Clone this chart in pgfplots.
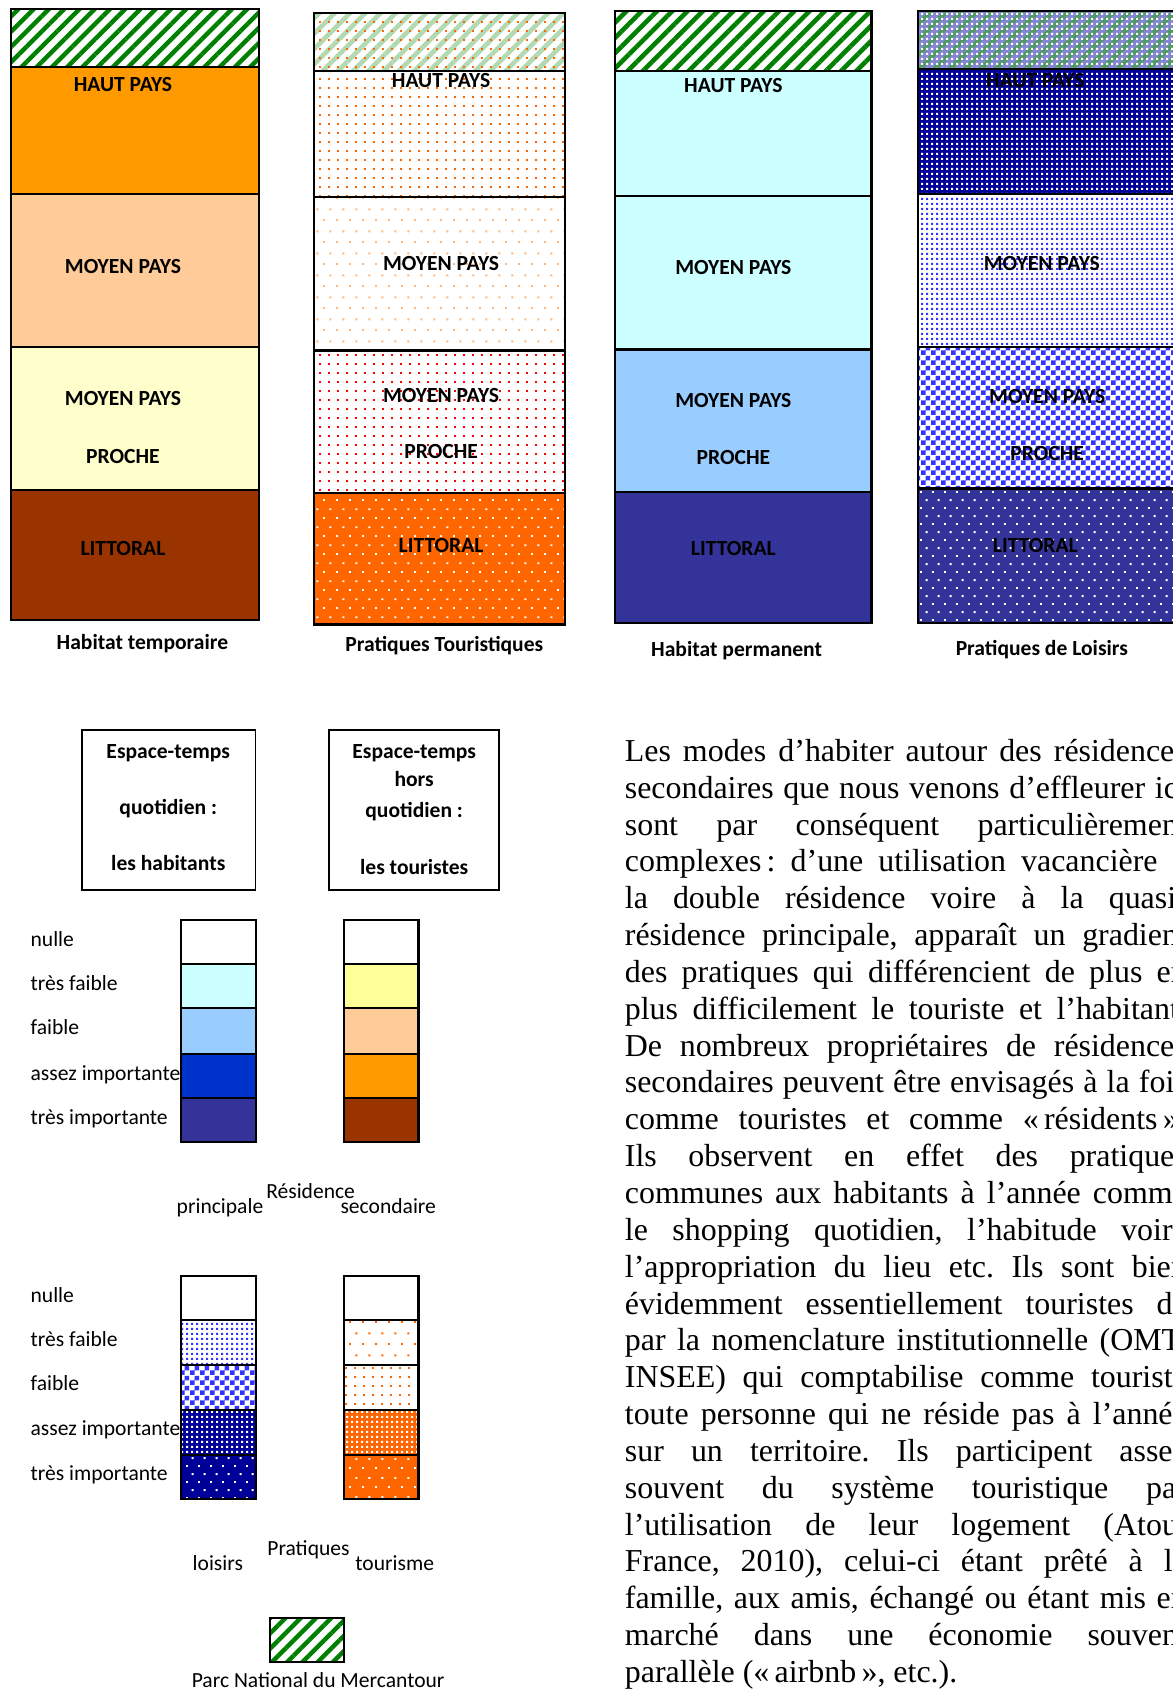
\documentclass[border=0pt]{standalone}
\usepackage{fontspec}
\setmainfont{Carlito}
\newfontfamily\timesf{Liberation Serif}
\usepackage{pgfplots}
\pgfplotsset{compat=1.18}
\usetikzlibrary{patterns,patterns.meta}
\frenchspacing

\definecolor{parkgreen}{HTML}{008000}
\definecolor{parklight}{HTML}{B3D9B3}
\definecolor{parkmid}{HTML}{4F9A63}
\definecolor{lav}{HTML}{8585D6}
\definecolor{orA}{HTML}{FF9900}
\definecolor{peach}{HTML}{FFCC99}
\definecolor{cream}{HTML}{FFFFCC}
\definecolor{brownA}{HTML}{993300}
\definecolor{orB}{HTML}{FF6600}
\definecolor{cyanL}{HTML}{CCFFFF}
\definecolor{blueL}{HTML}{99CCFF}
\definecolor{indigo}{HTML}{333399}
\definecolor{navy}{HTML}{000099}
\definecolor{blueD}{HTML}{3333FF}
\definecolor{royal}{HTML}{0033CC}
\definecolor{yellowL}{HTML}{FFFF99}
\definecolor{redD}{HTML}{FF0000}
\definecolor{peachdot}{HTML}{FFB877}

% dot patterns (sizes in pt, 1 px of the reference = 0.5pt)
\pgfdeclarepatternformonly{dGrid}{\pgfpointorigin}{\pgfqpoint{4pt}{4pt}}{\pgfqpoint{4pt}{4pt}}{%
  \pgfpathrectangle{\pgfpointorigin}{\pgfqpoint{0.9pt}{0.9pt}}\pgfusepath{fill}}
\pgfdeclarepatternformonly{dStag}{\pgfpointorigin}{\pgfqpoint{6pt}{10pt}}{\pgfqpoint{6pt}{10pt}}{%
  \pgfpathrectangle{\pgfpointorigin}{\pgfqpoint{0.9pt}{0.9pt}}%
  \pgfpathrectangle{\pgfqpoint{3pt}{5pt}}{\pgfqpoint{0.9pt}{0.9pt}}\pgfusepath{fill}}
\pgfdeclarepatternformonly{dStagL}{\pgfpointorigin}{\pgfqpoint{6pt}{8.5pt}}{\pgfqpoint{6pt}{8.5pt}}{%
  \pgfpathrectangle{\pgfpointorigin}{\pgfqpoint{0.9pt}{0.9pt}}%
  \pgfpathrectangle{\pgfqpoint{3pt}{4.25pt}}{\pgfqpoint{0.9pt}{0.9pt}}\pgfusepath{fill}}
\pgfdeclarepatternformonly{dStagN}{\pgfpointorigin}{\pgfqpoint{5.4pt}{7.4pt}}{\pgfqpoint{5.4pt}{7.4pt}}{%
  \pgfpathrectangle{\pgfpointorigin}{\pgfqpoint{0.9pt}{0.9pt}}%
  \pgfpathrectangle{\pgfqpoint{2.7pt}{3.7pt}}{\pgfqpoint{0.9pt}{0.9pt}}\pgfusepath{fill}}
\pgfdeclarepatternformonly{dFine}{\pgfpointorigin}{\pgfqpoint{2.4pt}{2.4pt}}{\pgfqpoint{2.4pt}{2.4pt}}{%
  \pgfpathrectangle{\pgfpointorigin}{\pgfqpoint{1.1pt}{1.1pt}}\pgfusepath{fill}}
\pgfdeclarepatternformonly{chk}{\pgfpointorigin}{\pgfqpoint{4.4pt}{4.4pt}}{\pgfqpoint{4.4pt}{4.4pt}}{%
  \pgfpathrectangle{\pgfpointorigin}{\pgfqpoint{2.2pt}{2.2pt}}%
  \pgfpathrectangle{\pgfqpoint{2.2pt}{2.2pt}}{\pgfqpoint{2.2pt}{2.2pt}}\pgfusepath{fill}}

\tikzset{
  box/.style={draw=black, line width=1pt},
  hatch/.style={pattern={Lines[angle=45,distance=5pt,line width=2.1pt]}, pattern color=#1},
  park/.style={preaction={fill=white}, hatch=parkgreen},
  lab/.style={font=\fontsize{10}{12}\selectfont\bfseries, inner sep=0pt, text height=6.4pt, text depth=0pt},
  leg/.style={font=\fontsize{10}{12}\selectfont, inner sep=0pt, text height=6.4pt, text depth=0pt},
  ptxt/.style={font=\timesf\fontsize{14.8}{17}\selectfont, inner sep=0pt, anchor=base west},
}

% one rectangle (x1,x2 across, y1,y2 down the page)
\newcommand\seg[5]{\addplot[#5] coordinates {(#1,#3) (#2,#3) (#2,#4) (#1,#4)} --cycle;}
\newcommand\pl[2]{\node[ptxt] at (579,#1) {\makebox[260.5pt][s]{#2}};}

\begin{document}
\begin{tikzpicture}
\useasboundingbox (0,0) rectangle (543.5pt,783.5pt);
\begin{axis}[
    hide axis, scale only axis,
    width=543.5pt, height=783.5pt,
    xmin=0, xmax=1087, ymin=0, ymax=1567,
    y dir=reverse, clip=false,
    anchor=south west, at={(0,0)},
]
% --- Habitat temporaire
\seg{10}{240}{8}{62}{box, park}
\seg{10}{240}{62}{180}{box, fill=orA}
\seg{10}{240}{180}{322}{box, fill=peach}
\seg{10}{240}{322}{454}{box, fill=cream}
\seg{10}{240}{454}{575}{box, fill=brownA}
% --- Pratiques touristiques
\seg{291}{524}{12}{66}{box, preaction={fill=white}, preaction={hatch=parklight}, pattern=dGrid, pattern color=orB}
\seg{291}{524}{66}{183}{box, preaction={fill=white}, pattern=dGrid, pattern color=orB}
\seg{291}{524}{183}{325}{box, preaction={fill=white}, pattern=dStag, pattern color=peachdot}
\seg{291}{524}{325}{457}{box, preaction={fill=white}, pattern=dGrid, pattern color=redD}
\seg{291}{524}{457}{579}{box, preaction={fill=orB}, pattern=dStagL, pattern color=white}
% --- Habitat permanent
\seg{570}{808}{10}{66}{box, park}
\seg{570}{808}{66}{182}{box, fill=cyanL}
\seg{570}{808}{182}{324}{box, fill=cyanL}
\seg{570}{808}{324}{456}{box, fill=blueL}
\seg{570}{808}{456}{578}{box, fill=indigo}
% --- Pratiques de loisirs
\seg{851}{1089}{10}{64}{box, preaction={fill=lav}, preaction={hatch=parkmid}, pattern=dFine, pattern color=white}
\seg{851}{1089}{64}{180}{box, preaction={fill=navy}, pattern=dFine, pattern color=white}
\seg{851}{1089}{180}{322}{box, preaction={fill=white}, pattern=dFine, pattern color=blueD}
\seg{851}{1089}{322}{453}{box, preaction={fill=white}, pattern=chk, pattern color=blueD}
\seg{851}{1089}{453}{578}{box, preaction={fill=indigo}, pattern=dStagN, pattern color=white}

% bar labels
\node[lab] at (114,78) {HAUT PAYS};
\node[lab] at (114,247) {MOYEN PAYS};
\node[lab] at (114,370) {MOYEN PAYS};
\node[lab] at (114,423) {PROCHE};
\node[lab] at (114,509) {LITTORAL};
\node[lab] at (409,75) {HAUT PAYS};
\node[lab] at (409,244) {MOYEN PAYS};
\node[lab] at (409,367) {MOYEN PAYS};
\node[lab] at (409,419) {PROCHE};
\node[lab] at (409,506) {LITTORAL};
\node[lab] at (680,79) {HAUT PAYS};
\node[lab] at (680,248) {MOYEN PAYS};
\node[lab] at (680,371) {MOYEN PAYS};
\node[lab] at (680,424) {PROCHE};
\node[lab] at (680,509) {LITTORAL};
\node[lab] at (960,75) {HAUT PAYS};
\node[lab] at (966,244) {MOYEN PAYS};
\node[lab] at (971,368) {MOYEN PAYS};
\node[lab] at (971,421) {PROCHE};
\node[lab] at (960,506) {LITTORAL};
\node[lab] at (132,596) {Habitat temporaire};
\node[lab] at (412,598) {Pratiques Touristiques};
\node[lab] at (683,602) {Habitat permanent};
\node[lab] at (966,601) {Pratiques de Loisirs};

% --- boxes
\seg{76}{237}{677}{825}{draw=black, line width=0.8pt}
\seg{305}{463}{677}{825}{draw=black, line width=0.8pt}
\node[lab] at (156,697) {Espace-temps};
\node[lab] at (156,749) {quotidien :};
\node[lab] at (156,801) {les habitants};
\node[lab] at (384,697) {Espace-temps};
\node[lab] at (384,723) {hors};
\node[lab] at (384,752) {quotidien :};
\node[lab] at (384,804) {les touristes};

% --- scale 1 (résidence)
\seg{168}{237}{853}{894}{box, fill=white}
\seg{168}{237}{894}{935}{box, fill=cyanL}
\seg{168}{237}{935}{977}{box, fill=blueL}
\seg{168}{237}{977}{1018}{box, fill=royal}
\seg{168}{237}{1018}{1059}{box, fill=indigo}
\seg{319}{388}{853}{894}{box, fill=white}
\seg{319}{388}{894}{935}{box, fill=yellowL}
\seg{319}{388}{935}{977}{box, fill=peach}
\seg{319}{388}{977}{1018}{box, fill=orA}
\seg{319}{388}{1018}{1059}{box, fill=brownA}
\node[leg, anchor=west] at (28,871) {nulle};
\node[leg, anchor=west] at (28,912) {très faible};
\node[leg, anchor=west] at (28,953) {faible};
\node[leg, anchor=west] at (28,995) {assez importante};
\node[leg, anchor=west] at (28,1036) {très importante};
\node[leg] at (204,1119) {principale};
\node[leg] at (288,1105) {Résidence};
\node[leg] at (360,1119) {secondaire};

% --- scale 2 (pratiques)
\seg{168}{237}{1183}{1224}{box, fill=white}
\seg{168}{237}{1224}{1266}{box, preaction={fill=white}, pattern=dFine, pattern color=blueD}
\seg{168}{237}{1266}{1307}{box, preaction={fill=white}, pattern=chk, pattern color=blueD}
\seg{168}{237}{1307}{1349}{box, preaction={fill=navy}, pattern=dFine, pattern color=white}
\seg{168}{237}{1349}{1390}{box, preaction={fill=navy}, pattern=dStagN, pattern color=white}
\seg{319}{388}{1183}{1224}{box, fill=white}
\seg{319}{388}{1224}{1266}{box, preaction={fill=white}, pattern=dStag, pattern color=orB}
\seg{319}{388}{1266}{1307}{box, preaction={fill=white}, pattern=dGrid, pattern color=orB}
\seg{319}{388}{1307}{1349}{box, preaction={fill=orB}, pattern=dFine, pattern color=white}
\seg{319}{388}{1349}{1390}{box, preaction={fill=orB}, pattern=dStagL, pattern color=white}
\node[leg, anchor=west] at (28,1201) {nulle};
\node[leg, anchor=west] at (28,1242) {très faible};
\node[leg, anchor=west] at (28,1283) {faible};
\node[leg, anchor=west] at (28,1325) {assez importante};
\node[leg, anchor=west] at (28,1366) {très importante};
\node[leg] at (202,1450) {loisirs};
\node[leg] at (286,1436) {Pratiques};
\node[leg] at (366,1450) {tourisme};

% --- park
\seg{250}{319}{1500}{1541}{box, park}
\node[leg] at (295,1558) {Parc National du Mercantour};

% --- text
\pl{706.0}{Les modes d’habiter autour des résidences}
\pl{740.2}{secondaires que nous venons d’effleurer ici}
\pl{774.3}{sont par conséquent particulièrement}
\pl{808.5}{complexes\,: d’une utilisation vacancière à}
\pl{842.6}{la double résidence voire à la quasi-}
\pl{876.8}{résidence principale, apparaît un gradient}
\pl{911.0}{des pratiques qui différencient de plus en}
\pl{945.1}{plus difficilement le touriste et l’habitant.}
\pl{979.3}{De nombreux propriétaires de résidences}
\pl{1013.4}{secondaires peuvent être envisagés à la fois}
\pl{1047.6}{comme touristes et comme «\,résidents\,».}
\pl{1081.8}{Ils observent en effet des pratiques}
\pl{1115.9}{communes aux habitants à l’année comme}
\pl{1150.1}{le shopping quotidien, l’habitude voire}
\pl{1184.2}{l’appropriation du lieu etc. Ils sont bien}
\pl{1218.4}{évidemment essentiellement touristes de}
\pl{1252.6}{par la nomenclature institutionnelle (OMT,}
\pl{1286.7}{INSEE) qui comptabilise comme touriste}
\pl{1320.9}{toute personne qui ne réside pas à l’année}
\pl{1355.0}{sur un territoire. Ils participent assez}
\pl{1389.2}{souvent du système touristique par}
\pl{1423.4}{l’utilisation de leur logement (Atout}
\pl{1457.5}{France, 2010), celui-ci étant prêté à la}
\pl{1491.7}{famille, aux amis, échangé ou étant mis en}
\pl{1525.8}{marché dans une économie souvent}
\node[ptxt] at (579,1560.0) {parallèle («\,airbnb\,», etc.).};
\end{axis}
\end{tikzpicture}
\end{document}
